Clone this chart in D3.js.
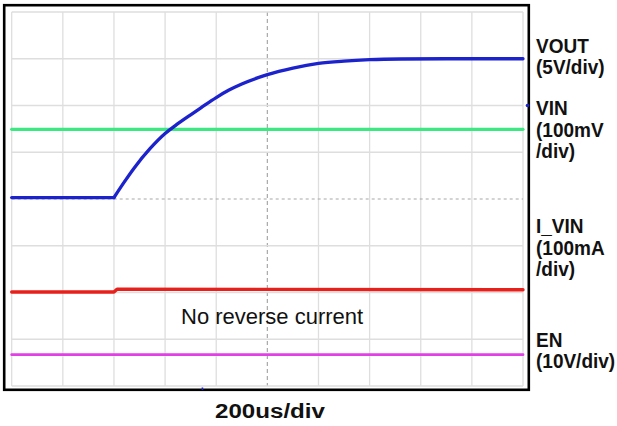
<!DOCTYPE html>
<html>
<head>
<meta charset="utf-8">
<script src="https://cdn.jsdelivr.net/npm/d3@7"></script>
<style>
  html, body { margin: 0; padding: 0; background: #fff; }
  svg { display: block; }
  text { font-family: Arial, "Liberation Sans", sans-serif; }
</style>
</head>
<body>
<svg id="chart" width="617" height="426"></svg>
<script>
// ---- data (time in divisions, amplitude in divisions from screen centre) ----
const xDivs = [0,1,2,3,4,5,6,7,8,9,10];
const yDivs = [-4,-3,-2,-1,0,1,2,3,4];

const voutT = [0, 2.0, 2.2, 2.4, 2.7, 3.0, 3.2, 3.5, 3.7, 4.0, 4.25, 4.5, 5.0, 5.5, 6.0, 6.5, 7.0, 7.6, 8.5, 10];
const voutV = [0.03, 0.03, 0.36, 0.67, 1.07, 1.40, 1.57, 1.80, 1.95, 2.17, 2.33, 2.46, 2.66, 2.80, 2.90, 2.95, 2.98, 2.995, 3.0, 3.0];

const vinT = [0, 10];
const vinV = [1.49, 1.49];

const ivinT = [0, 2.0, 2.06, 10];
const ivinV = [-1.99, -1.99, -1.93, -1.94];

const enT = [0, 10];
const enV = [-3.33, -3.33];

const channelLabels = [
  { lines: ["VOUT", "(5V/div)"], y: 52.7 },
  { lines: ["VIN", "(100mV", "/div)"], y: 115 },
  { lines: ["I_VIN", "(100mA", "/div)"], y: 233 },
  { lines: ["EN", "(10V/div)"], y: 346.7 }
];
const annotation = "No reverse current";
const timebase = "200us/div";

// ---- layout ----
const svg = d3.select("#chart");
const x = d3.scaleLinear().domain([0, 10]).range([11.7, 523]);
const y = d3.scaleLinear().domain([-4, 4]).range([386, 12]);

// grid
const g = svg.append("g");
g.selectAll("line.vg").data(xDivs).join("line")
  .attr("x1", d => x(d)).attr("x2", d => x(d))
  .attr("y1", y(4)).attr("y2", y(-4))
  .attr("stroke", d => d === 5 ? "#a8a8a8" : "#dedede")
  .attr("stroke-width", d => d === 5 ? 1.2 : 1.3)
  .attr("stroke-dasharray", d => d === 5 ? "4,3" : null);
g.selectAll("line.hg").data(yDivs).join("line")
  .attr("x1", x(0)).attr("x2", x(10))
  .attr("y1", d => y(d)).attr("y2", d => y(d))
  .attr("stroke", d => d === 0 ? "#a8a8a8" : "#dedede")
  .attr("stroke-width", d => d === 0 ? 1.2 : 1.3)
  .attr("stroke-dasharray", d => d === 0 ? "3,3" : null);

// frame
svg.append("rect")
  .attr("x", 4.2).attr("y", 5.2).attr("width", 524.6).attr("height", 384.6)
  .attr("fill", "none").attr("stroke", "#000").attr("stroke-width", 2.6);

// traces
const line = d3.line().x(d => x(d[0])).y(d => y(d[1]));
function trace(pts, color, w, curve) {
  svg.append("path")
    .datum(pts)
    .attr("d", line.curve(curve || d3.curveLinear))
    .attr("fill", "none")
    .attr("stroke", color)
    .attr("stroke-width", w)
    .attr("stroke-linejoin", "round")
    .attr("stroke-linecap", "round");
}
trace(d3.zip(vinT, vinV), "#3ce882", 3.2);
trace(d3.zip(ivinT, ivinV), "#e8201c", 3.4);
trace(d3.zip(enT, enV), "#e040e6", 2.8);
const voutPts = d3.zip(voutT, voutV);
trace(voutPts.filter(p => p[0] <= 2.0), "#1c22cc", 3.3);
trace(voutPts.filter(p => p[0] >= 2.0), "#1c22cc", 3.3, d3.curveMonotoneX);

// markers
svg.append("circle").attr("cx", 527.5).attr("cy", y(2)).attr("r", 1.8).attr("fill", "#1c22cc");
svg.append("rect").attr("x", x(3.73) - 0.8).attr("y", 387.5).attr("width", 1.6).attr("height", 2.5).attr("fill", "#1c22cc");

// annotation
svg.append("text")
  .attr("x", 181).attr("y", 324.3)
  .attr("font-size", 22)
  .attr("fill", "#111")
  .text(annotation);

// channel labels
channelLabels.forEach(lbl => {
  lbl.lines.forEach((s, i) => {
    svg.append("text")
      .attr("transform", `translate(536,${lbl.y + i * 21.6}) scale(1,1.08)`)
      .attr("font-size", 19).attr("font-weight", "bold")
      .attr("fill", "#111")
      .text(s);
  });
});

// timebase
svg.append("text")
  .attr("x", 270).attr("y", 417.7)
  .attr("text-anchor", "middle")
  .attr("font-size", 20).attr("font-weight", "bold")
  .attr("fill", "#111")
  .attr("textLength", 110).attr("lengthAdjust", "spacingAndGlyphs")
  .text(timebase);
</script>
</body>
</html>
